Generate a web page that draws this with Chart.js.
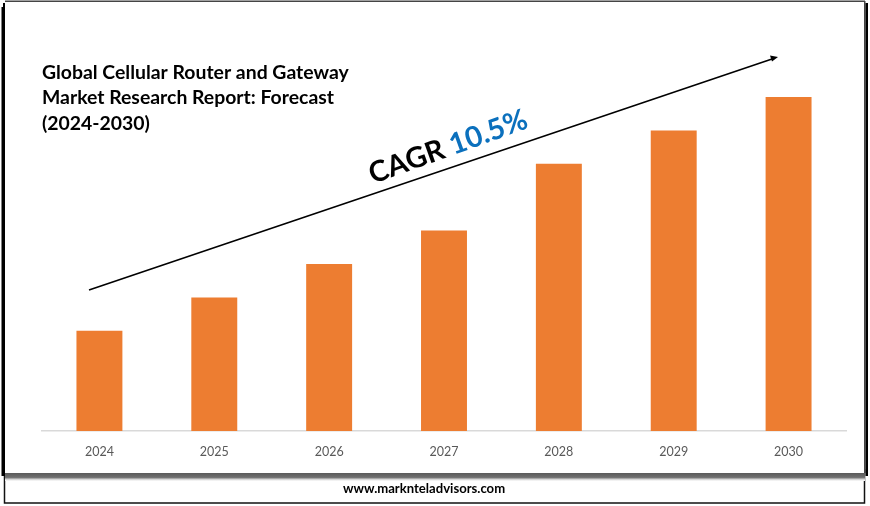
<!DOCTYPE html>
<html><head><meta charset="utf-8">
<script src="https://cdn.jsdelivr.net/npm/chart.js@4"></script>
<style>
html,body{margin:0;padding:0;background:#fff;width:870px;height:506px;overflow:hidden}
#wrap{position:absolute;left:0;top:0;width:870px;height:506px}
</style></head><body>
<div id="wrap"><canvas id="c" width="870" height="506"></canvas></div>
<script>
const years = ["2024","2025","2026","2027","2028","2029","2030"];
const marketSize = [3,4,5,6,8,9,10];
const titleLines = ["Global Cellular Router and Gateway","Market Research Report: Forecast","(2024-2030)"];
const website = "www.marknteladvisors.com";
const cagrLabel = "CAGR";
const cagrValue = "10.5%";

const decor = {
  id:'decor',
  beforeDraw(chart){
    const g = chart.ctx;
    g.save();
    g.fillStyle='#fff'; g.fillRect(0,0,870,506);
    g.strokeStyle='#111'; g.lineWidth=1.5; g.strokeRect(4.5,470,860,33);
    g.fillStyle='#fff'; g.fillRect(5,0,860,474);
    g.fillStyle='#444'; g.fillRect(5,0.5,860,1.5); g.fillRect(864,1,1.5,472);
    g.fillStyle='#000';
    g.fillRect(1.5,7,3.5,469);
    g.fillRect(3,3,2,4);
    g.fillRect(865.5,3,2.5,473);
    const b=g.createLinearGradient(0,473,0,481);
    b.addColorStop(0,'#5a5a5a'); b.addColorStop(0.55,'#707070'); b.addColorStop(0.8,'#d5d5d5'); b.addColorStop(1,'#ffffff');
    g.fillStyle=b; g.fillRect(5,473,860,8);
    g.restore();
  },
  afterDraw(chart){
    const g = chart.ctx;
    g.save();
    g.fillStyle='#000'; g.textAlign='left'; g.textBaseline='alphabetic';
    g.font='bold 19.4px Lato';
    titleLines.forEach((t,i)=>g.fillText(t,42,79+i*25.3));
    g.font='bold 13.1px Lato'; g.textAlign='center';
    g.fillText(website,424,493);
    g.strokeStyle='#000'; g.lineWidth=1.6;
    g.beginPath(); g.moveTo(89,290); g.lineTo(772,59); g.stroke();
    g.beginPath(); g.moveTo(778,57); g.lineTo(770,55.5); g.lineTo(772,61.5); g.closePath(); g.fillStyle='#000'; g.fill();
    g.translate(373,184); g.rotate(-Math.atan2(231,683)-0.02);
    g.textAlign='left';
    g.font='bold 29px Lato'; g.fillStyle='#000'; g.fillText(cagrLabel,0,0);
    const w=g.measureText(cagrLabel+' ').width;
    g.fillStyle='#0b70bd'; g.fillText(cagrValue,w,0);
    g.restore();
  }
};
new Chart(document.getElementById('c'),{
  type:'bar',
  data:{labels:years,datasets:[{data:marketSize,backgroundColor:'#ed7d31',borderWidth:0,categoryPercentage:1,barPercentage:0.4}]},
  options:{
    responsive:false,animation:false,
    layout:{padding:{left:42,right:24,top:97,bottom:42}},
    plugins:{legend:{display:false},title:{display:false},tooltip:{enabled:false}},
    scales:{
      x:{grid:{display:false},border:{color:'#d9d9d9',width:1.5},
         ticks:{color:'#595959',font:{family:'Lato',size:12.5},padding:5,maxRotation:0}},
      y:{display:false,min:0,max:10}
    }
  },
  plugins:[decor]
});
</script></body></html>
